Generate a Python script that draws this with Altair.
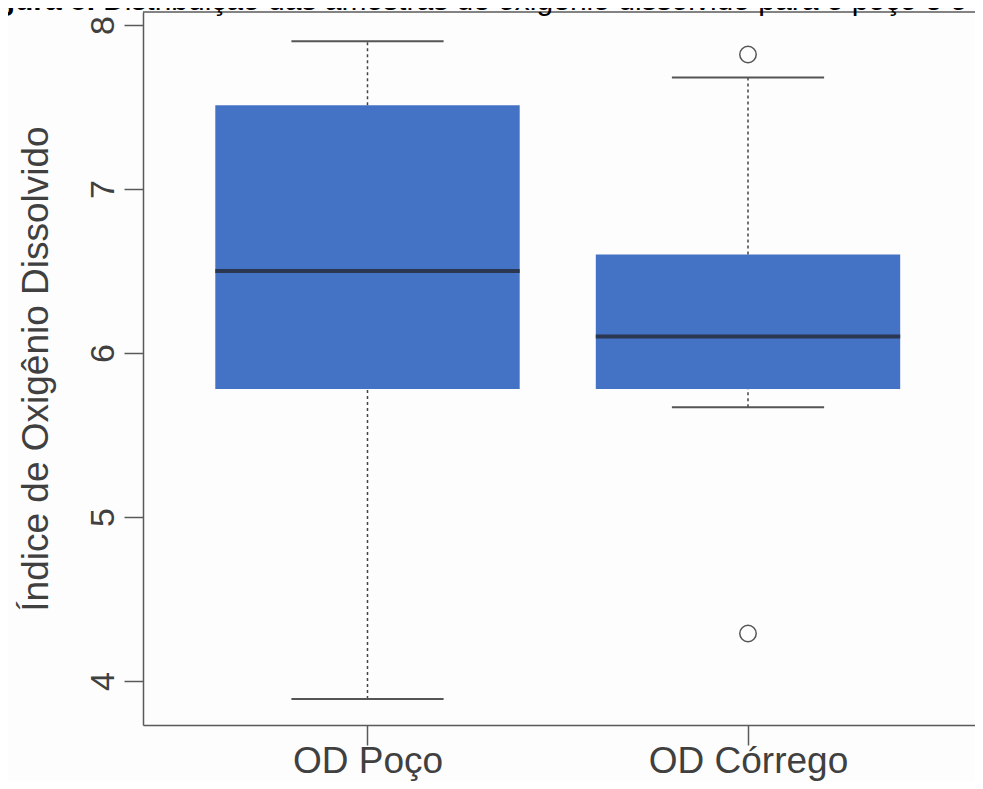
import altair as alt
import pandas as pd

# ---- data ----
categorias = ["OD Poço", "OD Córrego"]
posicoes = [1, 2]
minimo = [3.89, 5.67]
q1 = [5.78, 5.78]
mediana = [6.50, 6.10]
q3 = [7.51, 6.60]
maximo = [7.90, 7.68]

outlier_grupo = ["OD Córrego", "OD Córrego"]
outlier_pos = [2, 2]
outlier_valor = [7.82, 4.29]

y_ticks = [4, 5, 6, 7, 8]
titulo_negrito = "Figura 5."
titulo_texto = "Distribuição das amostras de oxigênio dissolvido para o poço e o córrego"
titulo_eixo_y = "Índice de Oxigênio Dissolvido"

caixas = pd.DataFrame({
    "grupo": categorias, "pos": posicoes, "minimo": minimo, "q1": q1,
    "mediana": mediana, "q3": q3, "maximo": maximo,
})
extremos = pd.DataFrame({"grupo": outlier_grupo, "pos": outlier_pos, "valor": outlier_valor})

W, H = 832, 713
FONT = "Liberation Sans"
AXIS_COLOR = "#5a5a5a"
TEXT_COLOR = "#404040"

x_scale = alt.Scale(domain=[0.41, 0.41 + W / 380.5], nice=False, zero=False)
y_scale = alt.Scale(domain=[3.732, 8.079], nice=False, zero=False)

label_expr = "[" + ",".join("'" + c + "'" for c in categorias) + "][datum.value - 1]"

x_axis = alt.Axis(
    values=posicoes, labelExpr=label_expr, title=None, grid=False,
    domainColor=AXIS_COLOR, domainWidth=1.5, tickColor=AXIS_COLOR, tickWidth=1.5,
    tickSize=20, labelFont=FONT, labelFontSize=37, labelColor=TEXT_COLOR,
    labelBaseline="alphabetic", labelPadding=27, labelFlush=False, labelLimit=600,
    labelOverlap=False)
y_axis = alt.Axis(
    values=y_ticks, title=titulo_eixo_y, grid=False,
    domainColor=AXIS_COLOR, domainWidth=1.5, tickColor=AXIS_COLOR, tickWidth=1.5,
    tickSize=19, labelFont=FONT, labelFontSize=34, labelColor=TEXT_COLOR,
    labelAngle=-90, labelAlign="center", labelBaseline="alphabetic", labelPadding=11,
    labelFlush=False, labelOverlap=False,
    titleFont=FONT, titleFontSize=37, titleFontWeight="normal", titleColor=TEXT_COLOR,
    titleX=-96, titleBaseline="alphabetic", titleLimit=800)


def X(field):
    return alt.X(field, scale=x_scale, axis=x_axis)


def Y(field):
    return alt.Y(field, scale=y_scale, axis=y_axis)


base = alt.Chart(caixas).transform_calculate(
    x_esq="datum.pos - 0.4", x_dir="datum.pos + 0.4",
    c_esq="datum.pos - 0.2", c_dir="datum.pos + 0.2",
)

caixa = base.mark_rect(color="#4472C4").encode(
    x=X("x_esq:Q"), x2="x_dir:Q", y=Y("q1:Q"), y2="q3:Q",
)

mediana_l = base.mark_rule(color="#2B3650", strokeWidth=4).encode(
    x=X("x_esq:Q"), x2="x_dir:Q", y=Y("mediana:Q"),
)

bigode_sup = base.mark_rule(color="#444444", strokeWidth=1.5, strokeDash=[3, 3]).encode(
    x=X("pos:Q"), y=Y("q3:Q"), y2="maximo:Q",
)
bigode_inf = base.mark_rule(color="#444444", strokeWidth=1.5, strokeDash=[3, 3]).encode(
    x=X("pos:Q"), y=Y("minimo:Q"), y2="q1:Q",
)
cap_sup = base.mark_rule(color="#555555", strokeWidth=2).encode(
    x=X("c_esq:Q"), x2="c_dir:Q", y=Y("maximo:Q"),
)
cap_inf = base.mark_rule(color="#555555", strokeWidth=2).encode(
    x=X("c_esq:Q"), x2="c_dir:Q", y=Y("minimo:Q"),
)

pontos = alt.Chart(extremos).mark_point(
    shape="circle", filled=False, color="#555555", strokeWidth=1.5, size=270, opacity=1
).encode(x=X("pos:Q"), y=Y("valor:Q"))

borda_topo = alt.Chart(alt.Data(values=[{}])).mark_rule(
    color=AXIS_COLOR, strokeWidth=1.5
).encode(x=alt.value(0), x2=alt.value(W), y=alt.value(0))

titulo_b = alt.Chart(alt.Data(values=[{}])).mark_text(
    text=titulo_negrito, font=FONT, fontSize=30, fontWeight="bold", color="black",
    align="right", baseline="alphabetic"
).encode(x=alt.value(-48), y=alt.value(-2))

titulo_n = alt.Chart(alt.Data(values=[{}])).mark_text(
    text=titulo_texto, font=FONT, fontSize=30, color="black",
    align="left", baseline="alphabetic"
).encode(x=alt.value(-40), y=alt.value(-2))

chart = alt.layer(
    caixa, bigode_sup, bigode_inf, cap_sup, cap_inf, mediana_l, pontos,
    borda_topo, titulo_b, titulo_n
).properties(
    width=W, height=H,
    autosize=alt.AutoSizeParams(type="none"),
    padding={"left": 135, "top": 4, "right": 0, "bottom": 56},
    background="#fdfdfd",
).configure_view(strokeWidth=0)

chart.save("out.html", embed_options={"renderer": "svg", "actions": False})
